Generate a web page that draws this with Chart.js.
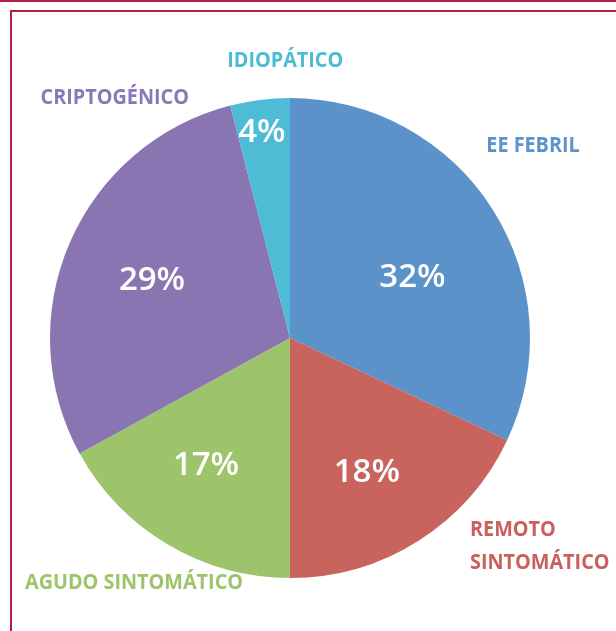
<!DOCTYPE html>
<html><head><meta charset="utf-8">
<script src="https://cdn.jsdelivr.net/npm/chart.js@4/dist/chart.umd.min.js"></script>
<style>
html,body{margin:0;padding:0;background:#fff;}
#wrap{position:relative;width:616px;height:631px;overflow:hidden;}
#topline{position:absolute;left:0;top:0;width:616px;height:2px;background:#B0203F;}
#box{position:absolute;left:10px;top:10px;width:700px;height:700px;border-left:2px solid #B0203F;border-top:2px solid #B0203F;}
canvas{position:absolute;left:0;top:0;}
</style></head>
<body><div id="wrap"><div id="topline"></div><div id="box"></div><canvas id="c" width="616" height="631"></canvas></div>
<script>
const categories = ['EE FEBRIL', 'REMOTO SINTOMÁTICO', 'AGUDO SINTOMÁTICO', 'CRIPTOGÉNICO', 'IDIOPÁTICO'];
const values = [32, 18, 17, 29, 4];
const colors = ['#5A92C9', '#C9635E', '#9DC36B', '#8A75B3', '#4DBCD4'];
const labelColors = ['#5B93CB', '#C9605C', '#9DC46A', '#8A78B8', '#4DBBD3'];
// label layout (relative to pie centre, in radius units) and text lines
const categoryLines = [['EE FEBRIL'], ['REMOTO', 'SINTOMÁTICO'], ['AGUDO SINTOMÁTICO'], ['CRIPTOGÉNICO'], ['IDIOPÁTICO']];
const pctPos = [[0.51,-0.25],[0.32,0.56],[-0.35,0.53],[-0.575,-0.24],[-0.117,-0.854]];
const catPos = [[1.0125,-0.80,'center'],[0.75,0.80,'left'],[-0.65,1.02,'center'],[-0.73,-1.002,'center'],[-0.02,-1.155,'center']];

const FONT = '"Open Sans", "DejaVu Sans", sans-serif';
const labelPlugin = {
  id: 'labels',
  afterDatasetsDraw(chart) {
    const ctx = chart.ctx;
    const arc = chart.getDatasetMeta(0).data[0];
    const cx = arc.x, cy = arc.y, r = arc.outerRadius;
    ctx.save();
    ctx.textBaseline = 'middle';
    values.forEach((v, i) => {
      ctx.fillStyle = '#fff';
      ctx.textAlign = 'center';
      ctx.font = '600 33px ' + FONT;
      ctx.fillText(v + '%', cx + pctPos[i][0] * r, cy + pctPos[i][1] * r);
      ctx.fillStyle = labelColors[i];
      ctx.font = 'bold 22px ' + FONT;
      ctx.textAlign = catPos[i][2];
      const lines = categoryLines[i];
      lines.forEach((ln, j) => {
        ctx.save();
        ctx.translate(cx + catPos[i][0] * r, cy + catPos[i][1] * r + j * 33);
        ctx.scale(0.9, 1);
        ctx.fillText(ln, 0, 0);
        ctx.restore();
      });
    });
    ctx.restore();
  }
};

new Chart(document.getElementById('c'), {
  type: 'pie',
  data: { labels: categories, datasets: [{ data: values, backgroundColor: colors, borderWidth: 0 }] },
  options: {
    responsive: false,
    animation: false,
    layout: { padding: { left: 50, top: 98, right: 86, bottom: 53 } },
    plugins: { legend: { display: false }, tooltip: { enabled: false } }
  },
  plugins: [labelPlugin]
});
</script></body></html>
